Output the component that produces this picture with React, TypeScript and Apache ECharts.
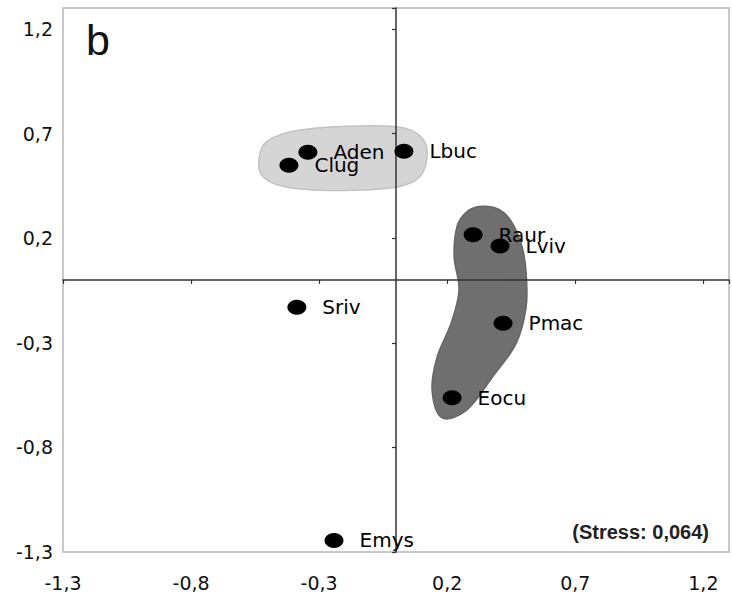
import React, { useEffect, useRef } from "react";
import * as echarts from "echarts";

// Species labels and NMDS coordinates
const species = ["Aden", "Clug", "Lbuc", "Raur", "Lviv", "Pmac", "Eocu", "Sriv", "Emys"];
const dim1 = [-0.344, -0.418, 0.031, 0.301, 0.406, 0.418, 0.219, -0.387, -0.242];
const dim2 = [0.611, 0.548, 0.615, 0.216, 0.163, -0.207, -0.563, -0.13, -1.245];

// Tick labels (decimal comma)
const tickLabels = ["-1,3", "-0,8", "-0,3", "0,2", "0,7", "1,2"];

// Group outlines in data coordinates
const hullLight: number[][] = [
  [-0.535, 0.577], [-0.504, 0.663], [-0.379, 0.716], [-0.145, 0.736], [0.031, 0.726],
  [0.105, 0.673], [0.121, 0.587], [0.09, 0.49], [-0.008, 0.442], [-0.262, 0.428],
  [-0.438, 0.447], [-0.52, 0.495],
];
const hullDark: number[][] = [
  [0.324, 0.351], [0.402, 0.337], [0.453, 0.274], [0.492, 0.159], [0.508, 0.034],
  [0.508, -0.13], [0.469, -0.303], [0.375, -0.466], [0.273, -0.625], [0.18, -0.659],
  [0.141, -0.529], [0.16, -0.37], [0.215, -0.207], [0.246, -0.048], [0.227, 0.111],
  [0.238, 0.255], [0.273, 0.322],
];
const hulls = [hullLight, hullDark];
const hullFill = ["#d5d5d5", "#6f6f6f"];
const hullStroke = ["#c2c2c2", "#666666"];

const panelLetter = "b";
const stressText = "(Stress: 0,064)";

const fmt = (v: number) => {
  const s = v.toFixed(1).replace(".", ",").replace("-0,0", "0,0");
  return tickLabels.includes(s) ? s : "";
};

export default function App() {
  const ref = useRef<HTMLDivElement>(null);
  useEffect(() => {
    if (!ref.current) return;
    const chart = echarts.init(ref.current, null, { renderer: "svg" });
    const labelFont = {
      fontFamily: "DejaVu Sans",
      fontSize: 19,
      color: "#111",
    };
    const baseAxis = { type: "value" as const, min: -1.3, max: 1.3, interval: 0.5 };
    chart.setOption({
      animation: false,
      backgroundColor: "#ffffff",
      grid: {
        left: 63,
        right: 3,
        top: 8,
        bottom: 42,
        show: true,
        borderColor: "#b8b8b8",
        borderWidth: 1.5,
        backgroundColor: "transparent",
      },
      xAxis: [
        {
          ...baseAxis,
          position: "bottom",
          axisLine: { show: false, onZero: false },
          axisTick: { show: false },
          splitLine: { show: false },
          axisLabel: { ...labelFont, margin: 21, formatter: fmt, hideOverlap: false },
        },
        {
          ...baseAxis,
          position: "bottom",
          z: 3,
          axisLine: { show: true, onZero: true, lineStyle: { color: "#333", width: 1.5 } },
          axisTick: { show: true, length: 4, lineStyle: { color: "#333", width: 1.2 } },
          splitLine: { show: false },
          axisLabel: { show: false },
        },
      ],
      yAxis: [
        {
          ...baseAxis,
          position: "left",
          axisLine: { show: false, onZero: false },
          axisTick: { show: false },
          splitLine: { show: false },
          axisLabel: { ...labelFont, margin: 10, formatter: fmt, hideOverlap: false },
        },
        {
          ...baseAxis,
          position: "left",
          z: 3,
          axisLine: { show: true, onZero: true, lineStyle: { color: "#333", width: 1.5 } },
          axisTick: { show: true, length: 4, lineStyle: { color: "#333", width: 1.2 } },
          splitLine: { show: false },
          axisLabel: { show: false },
        },
      ],
      graphic: [
        {
          type: "text",
          left: 86,
          top: 18,
          z: 10,
          style: {
            text: panelLetter,
            fontFamily: "Liberation Sans",
            fontSize: 43,
            fill: "#111",
          },
        },
        {
          type: "text",
          right: 23,
          top: 522,
          z: 10,
          style: {
            text: stressText,
            fontFamily: "Liberation Sans",
            fontWeight: "bold",
            fontSize: 20,
            fill: "#222",
          },
        },
      ],
      series: [
        {
          type: "custom",
          xAxisIndex: 0,
          yAxisIndex: 0,
          z: 1,
          silent: true,
          data: hulls.map((_, i) => [i, 0]),
          renderItem: (params: any, api: any) => {
            const idx = api.value(0);
            const pts = hulls[idx].map((p) => api.coord(p));
            return {
              type: "polygon",
              shape: { points: pts, smooth: 0.35 },
              style: { fill: hullFill[idx], stroke: hullStroke[idx], lineWidth: 1.5 },
            };
          },
        },
        {
          type: "scatter",
          xAxisIndex: 0,
          yAxisIndex: 0,
          z: 5,
          symbol: "circle",
          symbolSize: [19, 15],
          itemStyle: { color: "#000", opacity: 1 },
          label: {
            show: true,
            position: "right",
            distance: 16,
            formatter: "{b}",
            fontFamily: "DejaVu Sans",
            fontSize: 20,
            color: "#000",
          },
          data: species.map((name, i) => ({ name, value: [dim1[i], dim2[i]] })),
        },
      ],
    });
    return () => chart.dispose();
  }, []);
  return (
    <div
      ref={ref}
      style={{ position: "fixed", left: 0, top: 0, width: 732, height: 594, background: "#fff" }}
    />
  );
}
